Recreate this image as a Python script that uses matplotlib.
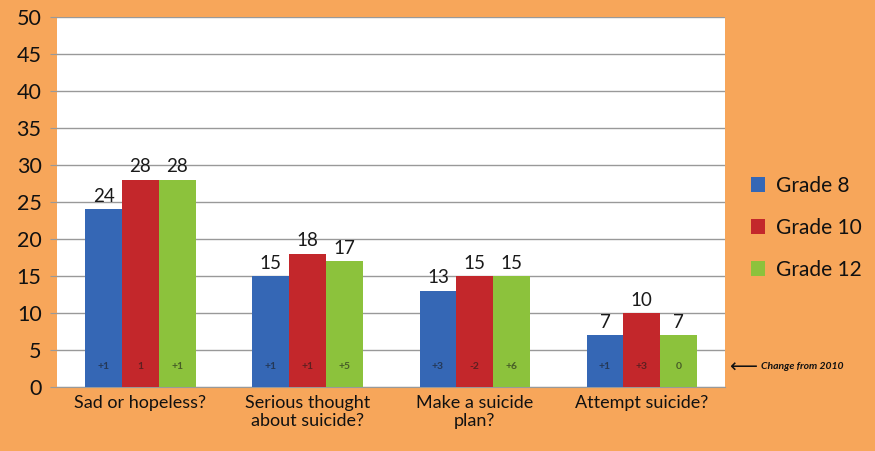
import numpy as np
import matplotlib.pyplot as plt

plt.rcParams['font.family'] = ['Lato', 'DejaVu Sans']

categories = ['Sad or hopeless?', 'Serious thought\nabout suicide?', 'Make a suicide\nplan?', 'Attempt suicide?']
grades = ['Grade 8', 'Grade 10', 'Grade 12']
grade8 = [24, 15, 13, 7]
grade10 = [28, 18, 15, 10]
grade12 = [28, 17, 15, 7]
change8 = ['+1', '+1', '+3', '+1']
change10 = ['1', '+1', '-2', '+3']
change12 = ['+1', '+5', '+6', '0']
yticks = [0, 5, 10, 15, 20, 25, 30, 35, 40, 45, 50]

colors = ['#3567b5', '#c3272b', '#8cc23c']
orange = '#f7a65a'

fig = plt.figure(figsize=(8.75, 4.51), dpi=100, facecolor=orange)
ax = fig.add_axes([0.065, 0.142, 0.764, 0.820])
ax.set_facecolor('white')

x = np.arange(len(categories))
w = 0.22
series = [grade8, grade10, grade12]
changes = [change8, change10, change12]
for i, (vals, chg) in enumerate(zip(series, changes)):
    pos = x + (i - 1) * w
    ax.bar(pos, vals, w, color=colors[i], label=grades[i], zorder=3)
    for p, v, c in zip(pos, vals, chg):
        ax.text(p, v + 0.6, str(v), ha='center', va='bottom', fontsize=13.5, color='#1a1a1a')
        ax.text(p, 2.7, c, ha='center', va='center', fontsize=7.5, fontweight='bold',
                color='#1a1a1a', alpha=0.6)

ax.set_xlim(-0.5, 3.5)
ax.set_ylim(0, 50)
ax.set_yticks(yticks)
ax.yaxis.grid(True, color='#999999', linewidth=1, zorder=0)
ax.tick_params(axis='y', labelsize=15.5, length=5, color='#999999', pad=6, labelcolor='#111111')
ax.tick_params(axis='x', labelsize=13, length=0, pad=6, labelcolor='#111111')
ax.set_xticks(x)
ax.set_xticklabels(categories, linespacing=1.1)
for s in ['top', 'right', 'left']:
    ax.spines[s].set_visible(False)
ax.spines['bottom'].set_color('#999999')

ax.legend(loc='center left', bbox_to_anchor=(1.01, 0.43), frameon=False,
          fontsize=15, handlelength=0.7, handleheight=0.7, labelspacing=1.05,
          handletextpad=0.5, labelcolor='#111111')

fig.text(0.833, 0.185, '\u27f5', fontsize=14, va='center', ha='left', color='#111111')
fig.text(0.870, 0.188, 'Change from 2010', fontsize=7.5, fontweight='bold', style='italic',
         va='center', ha='left', color='#111111')

fig.savefig('out.png', dpi=100, facecolor=orange)
